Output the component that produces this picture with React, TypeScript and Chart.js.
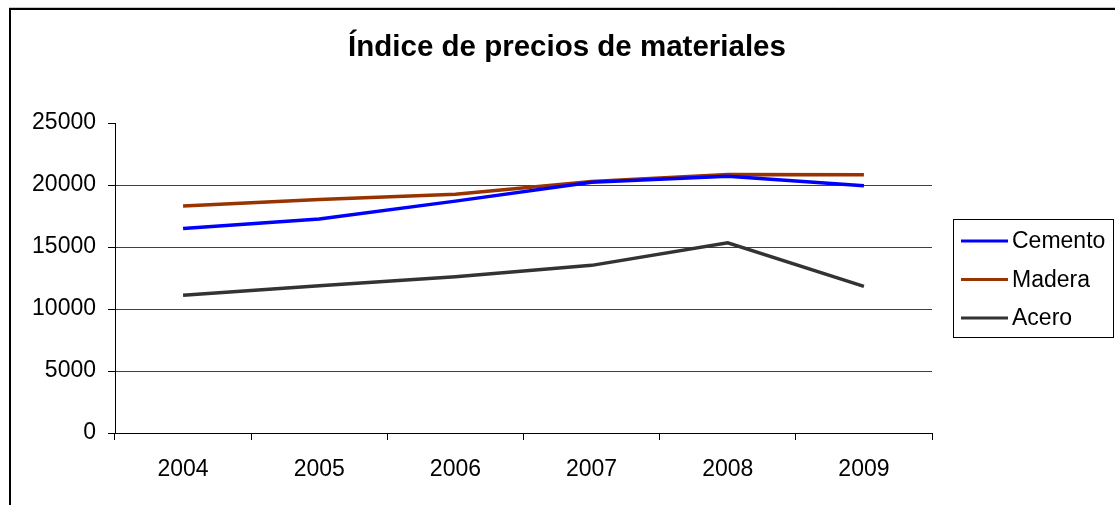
import React, { useEffect, useRef } from "react";
import { Chart, registerables } from "chart.js";

Chart.register(...registerables);

const TITLE = "Índice de precios de materiales";
const YEARS = ["2004", "2005", "2006", "2007", "2008", "2009"];
const CEMENTO = [16500, 17250, 18700, 20230, 20700, 19930];
const MADERA = [18300, 18830, 19250, 20280, 20850, 20820];
const ACERO = [11100, 11880, 12600, 13520, 15340, 11830];
const SERIES_NAMES = ["Cemento", "Madera", "Acero"];
const SERIES_COLORS = ["#0000FF", "#993300", "#333333"];
const Y_MIN = 0;
const Y_MAX = 25000;
const Y_STEP = 5000;

const FONT = "'Liberation Sans', Arial, sans-serif";

const framePlugin = {
  id: "frameAndExtras",
  beforeDraw(chart: any) {
    const ctx = chart.ctx;
    ctx.save();
    ctx.fillStyle = "#ffffff";
    ctx.fillRect(0, 0, chart.width, chart.height);
    ctx.strokeStyle = "#c8c8c8";
    ctx.lineWidth = 1;
    ctx.beginPath();
    ctx.moveTo(9, 7.5);
    ctx.lineTo(chart.width + 5, 7.5);
    ctx.stroke();
    ctx.strokeStyle = "#000000";
    ctx.lineWidth = 2;
    ctx.strokeRect(10, 9, chart.width + 50, chart.height + 50);
    ctx.restore();
  },
  afterDraw(chart: any) {
    const ctx = chart.ctx;
    const area = chart.chartArea;
    ctx.save();
    // title
    ctx.fillStyle = "#000000";
    ctx.font = `bold 29.5px ${FONT}`;
    ctx.textAlign = "center";
    ctx.textBaseline = "alphabetic";
    ctx.fillText(TITLE, 567, 56);
    // legend
    const bx = area.right + 21;
    const by = 219;
    ctx.strokeStyle = "#000000";
    ctx.lineWidth = 1;
    ctx.strokeRect(Math.round(bx) + 0.5, by + 0.5, 160, 118);
    ctx.font = `23px ${FONT}`;
    ctx.textAlign = "left";
    ctx.textBaseline = "middle";
    chart.data.datasets.forEach((ds: any, i: number) => {
      const y = 241 + i * 38.5;
      ctx.strokeStyle = ds.borderColor;
      ctx.lineWidth = 3;
      ctx.beginPath();
      ctx.moveTo(bx + 8, y);
      ctx.lineTo(bx + 55, y);
      ctx.stroke();
      ctx.fillStyle = "#000000";
      ctx.fillText(ds.label, bx + 59, y + 1);
    });
    ctx.restore();
  },
};

export default function App() {
  const ref = useRef<HTMLCanvasElement | null>(null);

  useEffect(() => {
    document.body.style.margin = "0";
    const canvas = ref.current;
    if (!canvas) return;
    const values = [CEMENTO, MADERA, ACERO];
    const chart = new Chart(canvas, {
      type: "line",
      data: {
        labels: YEARS,
        datasets: values.map((v, i) => ({
          label: SERIES_NAMES[i],
          data: v,
          borderColor: SERIES_COLORS[i],
          backgroundColor: SERIES_COLORS[i],
          borderWidth: 3.5,
          pointRadius: 0,
          pointHoverRadius: 0,
          tension: 0,
          fill: false,
        })),
      },
      options: {
        animation: false,
        responsive: false,
        maintainAspectRatio: false,
        layout: { padding: { left: 0, right: 183, top: 123, bottom: 0 } },
        plugins: {
          legend: { display: false },
          title: { display: false },
          tooltip: { enabled: false },
        },
        scales: {
          x: {
            type: "category",
            offset: true,
            afterFit: (s: any) => {
              s.height = 72;
            },
            grid: {
              offset: true,
              drawOnChartArea: false,
              drawTicks: true,
              tickLength: 7,
              tickColor: "#000000",
              color: "#000000",
            },
            border: { display: true, color: "#000000", width: 1 },
            ticks: {
              color: "#000000",
              font: { family: FONT, size: 23 },
              padding: 16,
              maxRotation: 0,
            },
          },
          y: {
            type: "linear",
            min: Y_MIN,
            max: Y_MAX,
            afterFit: (s: any) => {
              s.width = 115;
            },
            grid: {
              color: (c: any) => (c.tick && c.tick.value === Y_MAX ? "rgba(0,0,0,0)" : "#404040"),
              tickColor: "#000000",
              tickLength: 7,
              drawTicks: true,
            },
            border: { display: true, color: "#000000", width: 1 },
            ticks: {
              stepSize: Y_STEP,
              color: "#000000",
              font: { family: FONT, size: 23 },
              padding: 12,
              callback: (v: any) => String(v),
            },
          },
        },
      },
      plugins: [framePlugin],
    });
    return () => chart.destroy();
  }, []);

  return (
    <div style={{ width: 1115, height: 505 }}>
      <canvas ref={ref} width={1115} height={505} style={{ display: "block", width: 1115, height: 505 }} />
    </div>
  );
}
